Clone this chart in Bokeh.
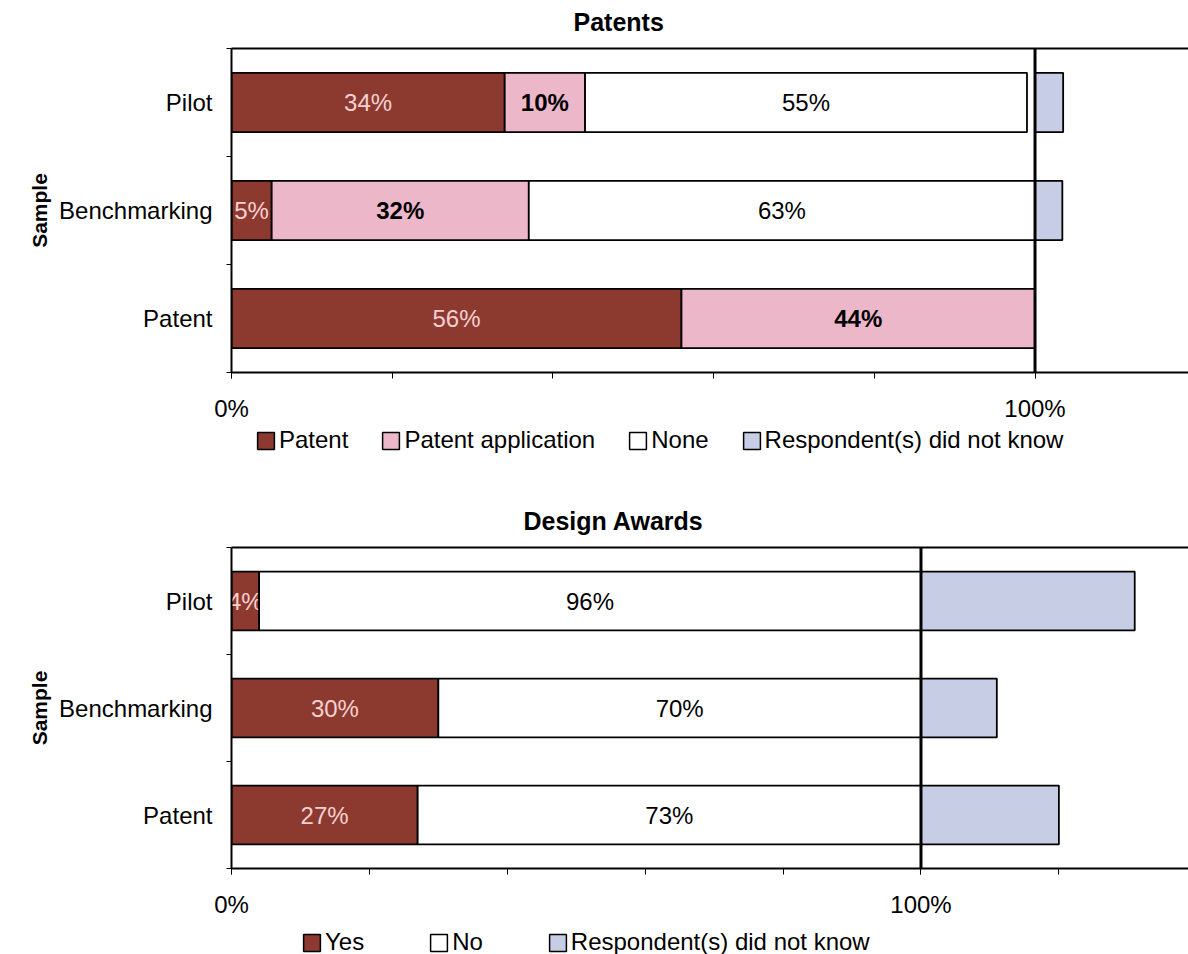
from bokeh.plotting import figure
from bokeh.models import (ColumnDataSource, Range1d, FixedTicker, LinearAxis, Span,
                          Legend, LegendItem, PrintfTickFormatter, Label)
from bokeh.core.properties import value
from bokeh.layouts import column
from bokeh.embed import file_html
from bokeh.resources import INLINE

# Sample groups, listed bottom to top
samples = ["Patent", "Benchmarking", "Pilot"]

# Patents: share of respondents per sample (%)
patent_granted = [56, 5, 34]
patent_applied = [44, 32, 10]
patent_none = [0, 63, 55]
patent_unknown = [0, 3.4, 3.5]

# Design awards: share of respondents per sample (%)
award_yes = [27, 30, 4]
award_no = [73, 70, 96]
award_unknown = [20, 11, 31]

x_major_ticks = [0, 100]
x_minor_ticks = [0, 20, 40, 60, 80, 100, 120, 140]

FONT = "Liberation Sans"
DARK_RED = "#8C3A30"
PINK = "#EDB7CA"
LAVENDER = "#C8CDE6"
TEXT_ON_DARK = "#F8D0D0"
BAR_H = 0.55
OUTLINE_W = 1.8


def blank_strip(height):
    """Axis-less, border-less figure used for titles and keys."""
    f = figure(width=1188, height=height, output_backend="svg", toolbar_location=None,
               x_range=Range1d(0, 1), y_range=Range1d(0, 1),
               min_border_left=0, min_border_right=0, min_border_top=0,
               min_border_bottom=0, x_axis_location=None, y_axis_location=None)
    f.outline_line_color = None
    f.xgrid.grid_line_color = None
    f.ygrid.grid_line_color = None
    f.border_fill_color = "white"
    return f


def title_strip(text, height, x, y):
    f = blank_strip(height)
    f.add_layout(Label(x=x, y=y, x_units="screen", y_units="screen", text=text,
                       text_font=FONT, text_font_size="25px", text_font_style="bold",
                       text_color="black", text_align="left", text_baseline="middle"))
    return f


def build(stacked, unknown, x_end, left_border, bottom_border):
    p = figure(width=1188, height=378, output_backend="svg", toolbar_location=None,
               x_range=Range1d(0, x_end), y_range=Range1d(0, len(samples)),
               min_border_left=left_border, min_border_right=0,
               min_border_top=2, min_border_bottom=bottom_border,
               x_axis_location=None, y_axis_location=None)
    p.outline_line_color = None
    p.xgrid.grid_line_color = None
    p.ygrid.grid_line_color = None
    p.background_fill_color = "white"
    p.border_fill_color = "white"

    # category axis: names at row centres, tick marks on the row boundaries
    yax = LinearAxis(ticker=FixedTicker(ticks=[i + 0.5 for i in range(len(samples))],
                                        minor_ticks=list(range(len(samples) + 1))))
    yax.major_label_overrides = {i + 0.5: s for i, s in enumerate(samples)}
    yax.major_tick_out = 0
    yax.major_tick_in = 0
    yax.minor_tick_out = 5
    yax.minor_tick_in = 0
    yax.minor_tick_line_color = "black"
    yax.axis_line_color = "black"
    yax.axis_line_width = 2
    yax.major_label_text_font = FONT
    yax.major_label_text_font_size = "24px"
    yax.major_label_text_color = "black"
    yax.major_label_standoff = 14
    yax.axis_label = "Sample"
    yax.axis_label_text_font = FONT
    yax.axis_label_text_font_size = "21px"
    yax.axis_label_text_font_style = "bold"
    yax.axis_label_text_color = "black"
    yax.axis_label_standoff = 5
    p.add_layout(yax, "left")

    xax = LinearAxis(ticker=FixedTicker(ticks=x_major_ticks, minor_ticks=x_minor_ticks),
                     formatter=PrintfTickFormatter(format="%d%%"))
    xax.major_tick_out = 6
    xax.major_tick_in = 0
    xax.minor_tick_out = 6
    xax.minor_tick_in = 0
    xax.major_tick_line_color = "black"
    xax.minor_tick_line_color = "black"
    xax.axis_line_color = "black"
    xax.axis_line_width = 2
    xax.major_label_text_font = FONT
    xax.major_label_text_font_size = "24px"
    xax.major_label_text_color = "black"
    xax.major_label_standoff = 16
    p.add_layout(xax, "below")

    # plain top border of the plot area
    top = LinearAxis(ticker=FixedTicker(ticks=[]))
    top.major_tick_out = 0
    top.major_tick_in = 0
    top.minor_tick_out = 0
    top.minor_tick_in = 0
    top.major_label_standoff = 0
    top.major_label_text_font_size = "0px"
    top.axis_line_color = "black"
    top.axis_line_width = 2
    p.add_layout(top, "above")

    base = [0.0] * len(samples)
    for name, values, fill, tcolor, tstyle in stacked:
        rows = dict(y=[], left=[], right=[], xc=[], label=[])
        for i, v in enumerate(values):
            if v > 0:
                rows["y"].append(i + 0.5)
                rows["left"].append(base[i])
                rows["right"].append(base[i] + v)
                rows["xc"].append(base[i] + v / 2)
                rows["label"].append(f"{v}%")
            base[i] += v
        src = ColumnDataSource(rows)
        p.hbar(y="y", left="left", right="right", height=BAR_H, source=src,
               fill_color=fill, line_color="black", line_width=OUTLINE_W)
        p.text(x="xc", y="y", text="label", source=src, text_align="center",
               text_baseline="middle", text_font=value(FONT), text_font_size="24px",
               text_color=tcolor, text_font_style=value(tstyle))

    # "did not know" answers, drawn beyond the 100% mark
    urows = dict(y=[], left=[], right=[])
    for i, v in enumerate(unknown):
        if v > 0:
            urows["y"].append(i + 0.5)
            urows["left"].append(100)
            urows["right"].append(100 + v)
    p.hbar(y="y", left="left", right="right", height=BAR_H,
           source=ColumnDataSource(urows), fill_color=LAVENDER,
           line_color="black", line_width=OUTLINE_W)

    p.add_layout(Span(location=100, dimension="height", line_color="black", line_width=3))
    return p


def legend_strip(entries, height, x, y, spacing):
    """A strip holding a horizontal legend of swatches."""
    f = blank_strip(height)
    items = []
    for label, fill in entries:
        # hidden swatch carrier for the legend entry
        r = f.hbar(y=[0.5], left=[0], right=[1], height=0.5, fill_color=fill,
                   line_color="black", line_width=1.5, visible=False)
        items.append(LegendItem(label=label, renderers=[r]))
    legend = Legend(items=items, orientation="horizontal", location=(x, y),
                    label_text_font=FONT, label_text_font_size="24px",
                    label_text_color="black", glyph_width=21, glyph_height=21,
                    label_standoff=3, spacing=spacing, padding=0, margin=0,
                    border_line_color=None, background_fill_alpha=0)
    f.add_layout(legend)
    return f


patents_title = title_strip("Patents", height=46, x=342, y=25)
patents = build(
    [("Patent", patent_granted, DARK_RED, TEXT_ON_DARK, "normal"),
     ("Patent application", patent_applied, PINK, "black", "bold"),
     ("None", patent_none, "white", "black", "normal")],
    patent_unknown, x_end=119.1, left_border=231, bottom_border=52)
patents_key = legend_strip(
    [("Patent", DARK_RED), ("Patent application", PINK), ("None", "white"),
     ("Respondent(s) did not know", LAVENDER)],
    height=53, x=24, y=23, spacing=32)

awards_title = title_strip("Design Awards", height=68, x=292, y=25)
awards = build(
    [("Yes", award_yes, DARK_RED, TEXT_ON_DARK, "normal"),
     ("No", award_no, "white", "black", "normal")],
    award_unknown, x_end=138.8, left_border=230, bottom_border=55)
awards_key = legend_strip(
    [("Yes", DARK_RED), ("No", "white"), ("Respondent(s) did not know", LAVENDER)],
    height=31, x=70, y=-2, spacing=64)

page = column(patents_title, patents, patents_key,
              awards_title, awards, awards_key, spacing=0)

with open("out.html", "w") as f:
    f.write(file_html(page, INLINE))
